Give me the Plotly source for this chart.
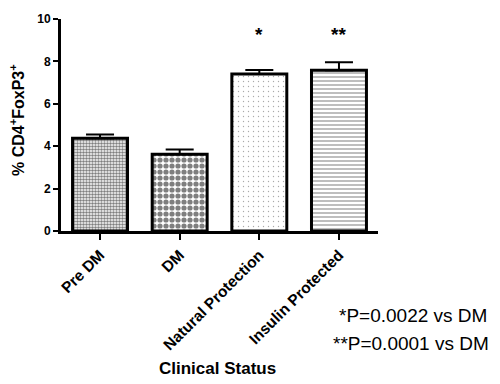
import plotly.graph_objects as go

categories = ["Pre DM", "DM", "Natural Protection", "Insulin Protected"]
values = [4.38, 3.62, 7.40, 7.58]
errors = [0.17, 0.22, 0.20, 0.38]
sig_marks = ["", "", "*", "**"]
sig_notes = ["*P=0.0022 vs DM", "**P=0.0001 vs DM"]
x_title = "Clinical Status"
y_title = "% CD4<sup>+</sup>FoxP3<sup>+</sup>"
y_ticks = [0, 2, 4, 6, 8, 10]

FONT = "Arial, Liberation Sans, Helvetica, sans-serif"
W, H = 500, 384
L, R, T, B = 61, 122, 19, 153
PW, PH = W - L - R, H - T - B

patterns = [
    dict(shape=".", size=3, solidity=0.55, fgcolor="#000000", bgcolor="#ffffff"),
    dict(shape=".", size=6, solidity=0.6, fgcolor="#000000", bgcolor="#ffffff"),
    dict(shape=".", size=5, solidity=0.06, fgcolor="#555555", bgcolor="#ffffff"),
    dict(shape="-", size=4, solidity=0.35, fgcolor="#444444", bgcolor="#ffffff"),
]

fig = go.Figure()
for i, cat in enumerate(categories):
    fig.add_trace(go.Bar(
        x=[cat], y=[values[i]],
        width=0.69,
        marker=dict(color="#ffffff", pattern=patterns[i],
                    line=dict(color="#000000", width=3)),
        error_y=dict(type="data", symmetric=False, array=[errors[i]], arrayminus=[0],
                     color="#000000", thickness=2, width=14),
        showlegend=False,
    ))

for i, cat in enumerate(categories):
    if sig_marks[i]:
        fig.add_annotation(x=cat, y=9.25, text="<b>" + sig_marks[i] + "</b>", showarrow=False,
                           font=dict(family=FONT, size=19, color="#000000"))

def px_x(p):
    return (p - L) / PW

def px_y(p):
    return (H - B - p) / PH

fig.add_annotation(xref="paper", yref="paper", x=px_x(489), y=px_y(315),
                   text=sig_notes[0], showarrow=False, xanchor="right", yanchor="middle",
                   font=dict(family=FONT, size=19, color="#000000"))
fig.add_annotation(xref="paper", yref="paper", x=px_x(491), y=px_y(343),
                   text=sig_notes[1], showarrow=False, xanchor="right", yanchor="middle",
                   font=dict(family=FONT, size=19, color="#000000"))
fig.add_annotation(xref="paper", yref="paper", x=px_x(217), y=px_y(368),
                   text="<b>" + x_title + "</b>", showarrow=False, xanchor="center", yanchor="middle",
                   font=dict(family=FONT, size=17, color="#000000"))
fig.add_annotation(xref="paper", yref="paper", x=px_x(17), y=px_y(120),
                   text="<b>" + y_title + "</b>", showarrow=False, textangle=-90,
                   xanchor="center", yanchor="middle",
                   font=dict(family=FONT, size=16, color="#000000"))

fig.update_layout(
    width=W, height=H,
    margin=dict(l=L, r=R, t=T, b=B),
    paper_bgcolor="#ffffff", plot_bgcolor="#ffffff",
    font=dict(family=FONT, color="#000000"),
)
fig.update_xaxes(
    range=[-0.49, 3.49], automargin=False,
    tickangle=-45,
    tickfont=dict(family=FONT, size=15.5, weight="bold"),
    ticks="outside", ticklen=6, tickwidth=2, tickcolor="#000000",
    showline=True, linecolor="#000000", linewidth=3,
    showgrid=False, zeroline=False,
)
fig.update_yaxes(
    range=[0, 10], automargin=False,
    tickvals=y_ticks,
    tickfont=dict(family=FONT, size=12, weight="bold"),
    ticks="outside", ticklen=5, tickwidth=2, tickcolor="#000000",
    showline=True, linecolor="#000000", linewidth=3,
    showgrid=False, zeroline=False,
)

fig.write_html("out.html", config={"displayModeBar": False},
               post_script="document.body.style.margin='0';document.body.style.overflow='hidden';")
